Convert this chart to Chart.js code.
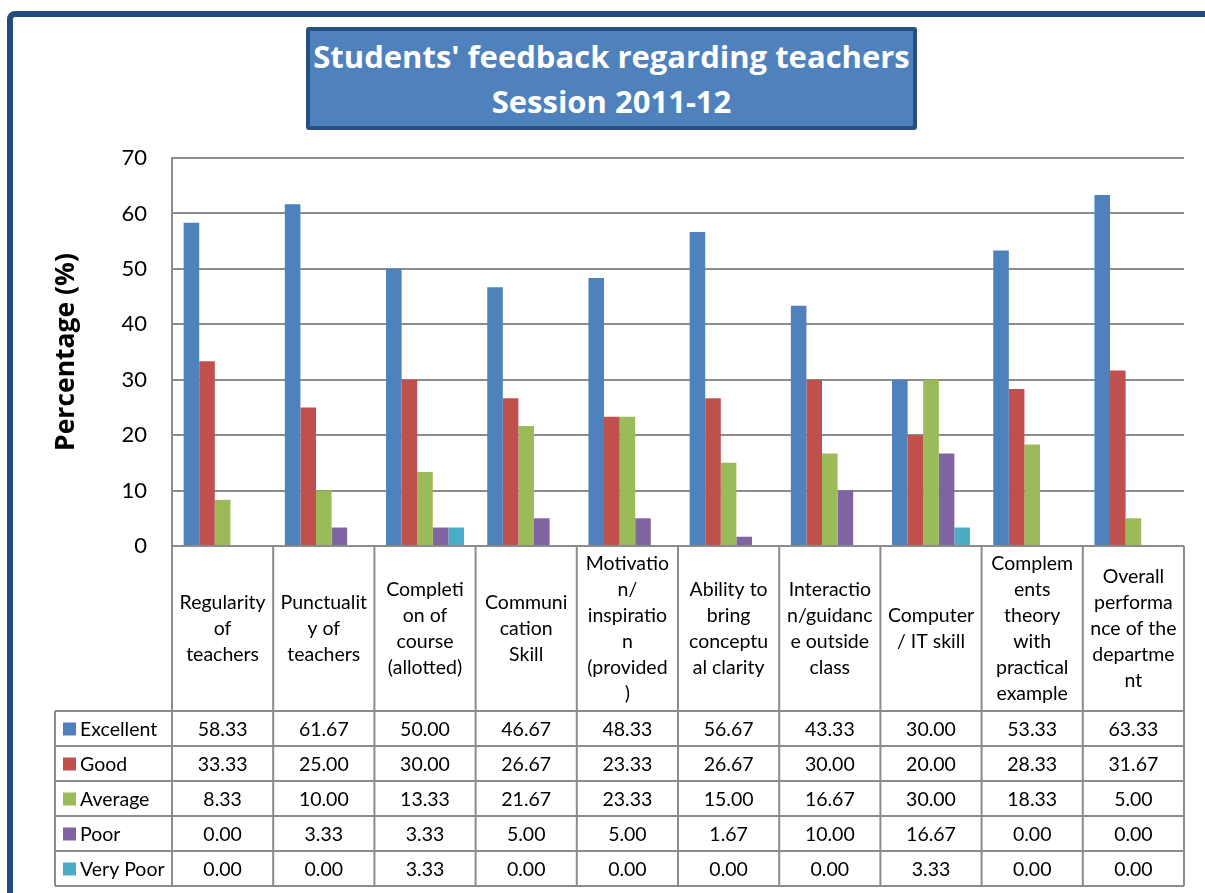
<!DOCTYPE html>
<html>
<head>
<meta charset="utf-8">
<script src="https://cdn.jsdelivr.net/npm/chart.js@4.4.1/dist/chart.umd.min.js"></script>
<style>
  html, body { margin: 0; padding: 0; background: #fff; }
  body { width: 1205px; height: 893px; position: relative; overflow: hidden; }
  #frame {
    position: absolute; left: 7px; top: 11px; width: 1300px; height: 1000px;
    border: 6px solid #234c7f; border-radius: 8px; box-sizing: border-box;
  }
  #chart { position: absolute; left: 0; top: 0; }
  #title {
    position: absolute; left: 306px; top: 27px; width: 611px; height: 103px;
    box-sizing: border-box; background: #4f81bd; border: 4px solid #25507f;
    border-radius: 3px; color: #fff; text-align: center;
    font-family: "Open Sans", sans-serif; font-weight: bold; font-size: 31px;
    line-height: 45px; padding-top: 3px; white-space: nowrap;
  }
</style>
</head>
<body>
<div id="frame"></div>
<canvas id="chart" width="1205" height="893"></canvas>
<div id="title">Students' feedback regarding teachers<br>Session 2011-12</div>
<script>
// categories, wrapped the way the table shows them
const categories = [
  ['Regularity', 'of', 'teachers'],
  ['Punctualit', 'y of', 'teachers'],
  ['Completi', 'on of', 'course', '(allotted)'],
  ['Communi', 'cation', 'Skill'],
  ['Motivatio', 'n/', 'inspiratio', 'n', '(provided', ')'],
  ['Ability to', 'bring', 'conceptu', 'al clarity'],
  ['Interactio', 'n/guidanc', 'e outside', 'class'],
  ['Computer', '/ IT skill'],
  ['Complem', 'ents', 'theory', 'with', 'practical', 'example'],
  ['Overall', 'performa', 'nce of the', 'departme', 'nt']
];

const excellent = [58.33, 61.67, 50.00, 46.67, 48.33, 56.67, 43.33, 30.00, 53.33, 63.33];
const good      = [33.33, 25.00, 30.00, 26.67, 23.33, 26.67, 30.00, 20.00, 28.33, 31.67];
const average   = [8.33, 10.00, 13.33, 21.67, 23.33, 15.00, 16.67, 30.00, 18.33, 5.00];
const poor      = [0.00, 3.33, 3.33, 5.00, 5.00, 1.67, 10.00, 16.67, 0.00, 0.00];
const veryPoor  = [0.00, 0.00, 3.33, 0.00, 0.00, 0.00, 0.00, 3.33, 0.00, 0.00];

const seriesNames = ['Excellent', 'Good', 'Average', 'Poor', 'Very Poor'];
const seriesData = [excellent, good, average, poor, veryPoor];
const seriesColors = ['#4f81bd', '#c0504d', '#9bbb59', '#8064a2', '#4bacc6'];

const yTicks = [0, 10, 20, 30, 40, 50, 60, 70];

const lineColor = '#8c8c8c';
const tableFont = '19.5px Lato, sans-serif';

// data table under the plot, drawn from the x scale
const dataTable = {
  id: 'dataTable',
  afterDraw(chart) {
    const ctx = chart.ctx;
    const x = chart.scales.x;
    const area = chart.chartArea;
    const n = categories.length;
    const colW = (area.right - area.left) / n;
    const top = area.bottom;
    const headBottom = top + 165;
    const rowH = 35;
    const legendLeft = 55;
    const tableBottom = headBottom + rowH * seriesNames.length;

    ctx.save();
    ctx.strokeStyle = lineColor;
    ctx.lineWidth = 2;
    ctx.beginPath();
    // horizontals
    ctx.moveTo(area.left, top); ctx.lineTo(area.right, top);
    for (let r = 0; r <= seriesNames.length; r++) {
      const y = headBottom + r * rowH;
      ctx.moveTo(legendLeft, y); ctx.lineTo(area.right, y);
    }
    // verticals
    ctx.moveTo(legendLeft, headBottom); ctx.lineTo(legendLeft, tableBottom);
    for (let c = 0; c <= n; c++) {
      const xx = area.left + c * colW;
      ctx.moveTo(xx, top); ctx.lineTo(xx, tableBottom);
    }
    ctx.stroke();

    ctx.fillStyle = '#000';
    ctx.font = tableFont;
    ctx.textAlign = 'center';
    ctx.textBaseline = 'middle';
    const lh = 26;
    categories.forEach((lines, i) => {
      const cx = x.getPixelForValue(i);
      const cy = (top + headBottom) / 2;
      const y0 = cy - (lines.length - 1) * lh / 2;
      lines.forEach((t, k) => ctx.fillText(t, cx, y0 + k * lh));
    });

    seriesNames.forEach((name, r) => {
      const cy = headBottom + r * rowH + rowH / 2;
      ctx.fillStyle = seriesColors[r];
      ctx.fillRect(63, cy - 6, 13, 13);
      ctx.fillStyle = '#000';
      ctx.textAlign = 'left';
      ctx.fillText(name, 80, cy + 1);
      ctx.textAlign = 'center';
      seriesData[r].forEach((v, i) => {
        ctx.fillText(v.toFixed(2), x.getPixelForValue(i), cy + 1);
      });
    });
    ctx.restore();
  }
};

new Chart(document.getElementById('chart'), {
  type: 'bar',
  data: {
    labels: categories.map(l => l.join(' ')),
    datasets: seriesNames.map((name, i) => ({
      label: name,
      data: seriesData[i],
      backgroundColor: seriesColors[i],
      borderWidth: 0,
      categoryPercentage: 0.77,
      barPercentage: 1.0
    }))
  },
  options: {
    responsive: false,
    animation: false,
    layout: { padding: { top: 158, right: 21, bottom: 347, left: 0 } },
    plugins: {
      legend: { display: false },
      tooltip: { enabled: false },
      title: { display: false }
    },
    scales: {
      x: { display: false },
      y: {
        min: 0,
        max: 70,
        afterBuildTicks: s => { s.ticks = yTicks.map(v => ({ value: v })); },
        afterFit: s => { s.width = 172; },
        ticks: { color: '#000', padding: 25, font: { family: 'Lato', size: 22 } },
        grid: { color: lineColor, lineWidth: 2, drawTicks: false },
        border: { color: lineColor, width: 2 },
        title: {
          display: true,
          text: 'Percentage (%)',
          color: '#000',
          font: { family: 'Open Sans', size: 26.5, weight: 'bold' },
          padding: { top: 51, bottom: 0 }
        }
      }
    }
  },
  plugins: [dataTable]
});
</script>
</body>
</html>
